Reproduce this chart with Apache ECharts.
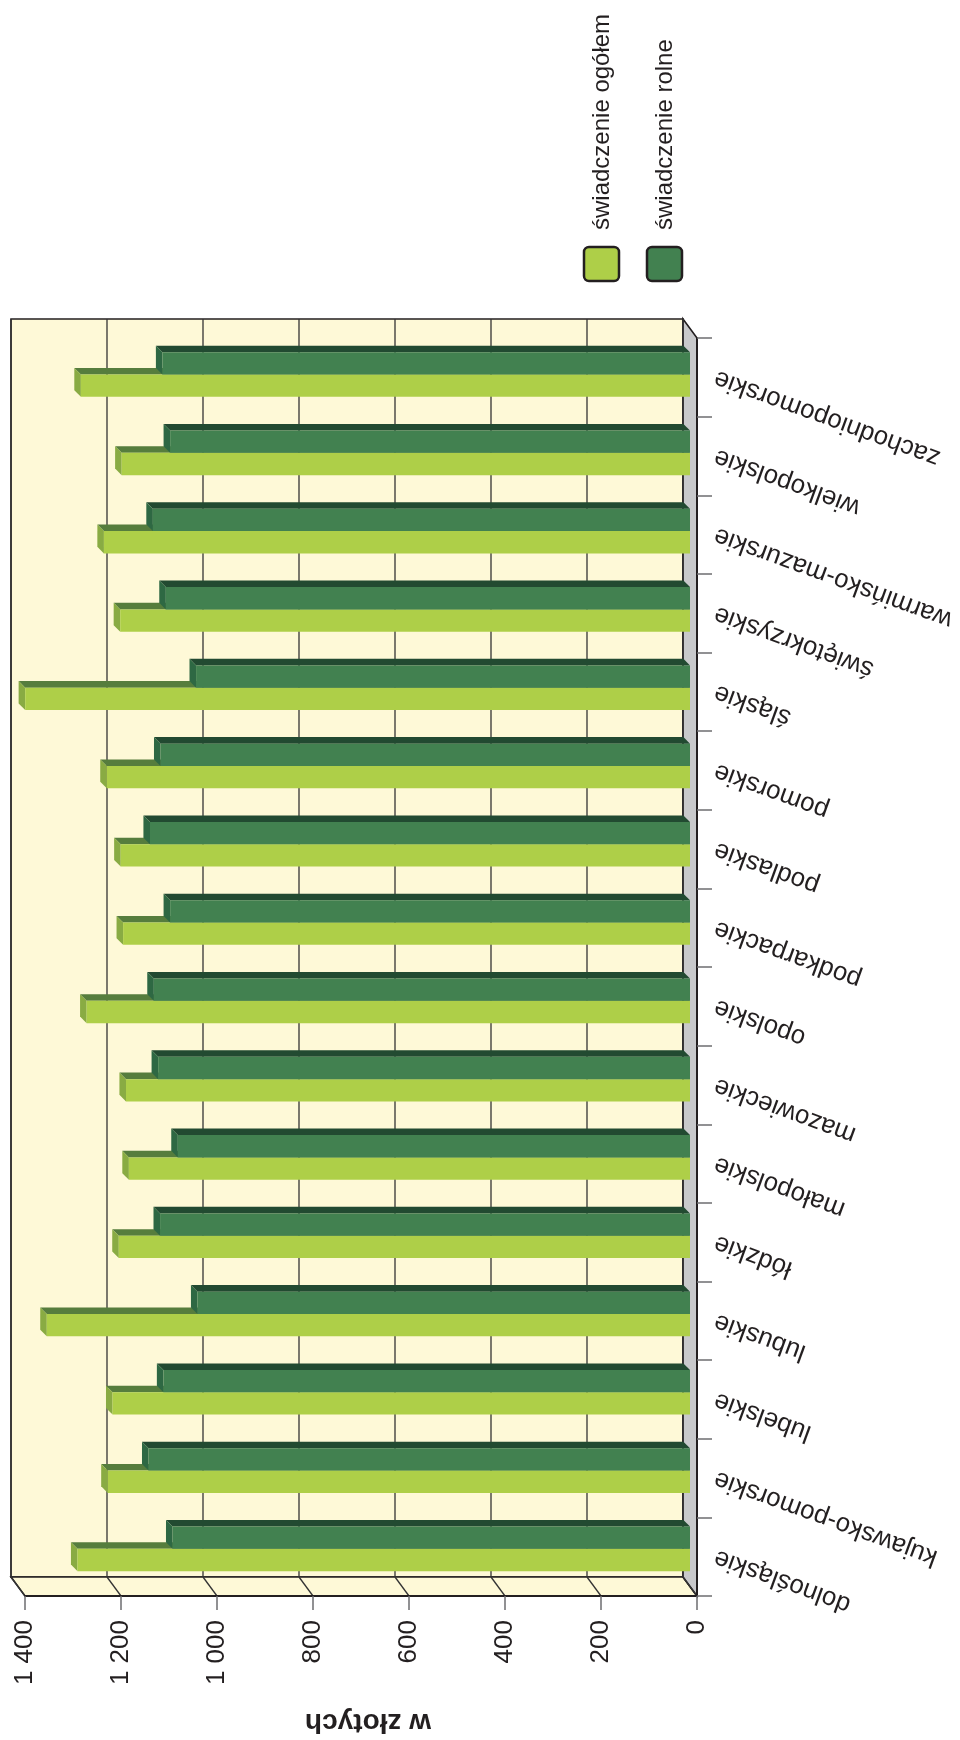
<!DOCTYPE html>
<html><head><meta charset="utf-8">
<script src="https://cdn.jsdelivr.net/npm/echarts@6/dist/echarts.min.js"></script>
<style>html,body{margin:0;padding:0;background:#fff}#c{width:960px;height:1740px}</style>
</head><body><div id="c"></div>
<script>
// ---- data ----
const categories = ['dolnośląskie','kujawsko-pomorskie','lubelskie','lubuskie','łódzkie','małopolskie','mazowieckie','opolskie','podkarpackie','podlaskie','pomorskie','śląskie','świętokrzyskie','warmińsko-mazurskie','wielkopolskie','zachodniopomorskie'];
const ogolem = [1276,1213,1203,1340,1190,1169,1175,1257,1181,1186,1215,1385,1187,1221,1184,1269];
const rolne  = [1078,1128,1097,1026,1104,1067,1108,1117,1083,1125,1103,1029,1092,1119,1083,1099];
const tickValues = [0,200,400,600,800,1000,1200,1400];
const tickLabels = ['0','200','400','600','800','1 000','1 200','1 400'];
const seriesNames = ['świadczenie ogółem','świadczenie rolne'];
const axisTitle = 'w złotych';

// ---- style ----
const FONT = '"Liberation Sans", Arial, Helvetica, sans-serif';
const TXT = '#231f20';
const LIGHT = {front:'#aecf48', top:'#567d3d', side:'#89ab43'};
const DARK  = {front:'#428150', top:'#224a31', side:'#2e6843'};
const WALL = '#fef9d7', SIDE = '#c8c9cb', EDGE = '#231f20', GRID = '#333333';
const BDX = -14, BDY = -19; // back-plane offset

const chart = echarts.init(document.getElementById('c'), null, {renderer:'canvas'});

function wallsItem(params, api){
  const cs = params.coordSys;
  const x = cs.x, y = cs.y, w = cs.width, h = cs.height;
  return {type:'group', children:[
    {type:'rect', shape:{x:x+BDX, y:y+BDY, width:w, height:h}, style:{fill:WALL, stroke:EDGE, lineWidth:1.6}},
    {type:'polygon', shape:{points:[[x+BDX,y+h+BDY],[x+w+BDX,y+h+BDY],[x+w,y+h],[x,y+h]]}, style:{fill:WALL, stroke:EDGE, lineWidth:1.6}},
    {type:'polygon', shape:{points:[[x+w+BDX,y+BDY],[x+w,y],[x+w,y+h],[x+w+BDX,y+h+BDY]]}, style:{fill:SIDE, stroke:EDGE, lineWidth:1.6}}
  ]};
}
function gridItem(params, api){
  const cs = params.coordSys;
  const px = api.coord([api.value(0), 0])[0];
  return {type:'group', children:[
    {type:'line', shape:{x1:px+BDX, y1:cs.y+BDY, x2:px+BDX, y2:cs.y+cs.height+BDY}, style:{stroke:GRID, lineWidth:1.3}},
    {type:'line', shape:{x1:px+BDX, y1:cs.y+cs.height+BDY, x2:px, y2:cs.y+cs.height}, style:{stroke:GRID, lineWidth:1.3}}
  ]};
}
function facesItem(colors, above){
  return function(params, api){
    const v = api.value(0), c = api.value(1);
    const pV = api.coord([v, c]), p0 = api.coord([0, c]);
    const band = api.size([0,1])[1];
    const h = band*0.285, d = band*0.084;
    const yt = above ? pV[1]-h : pV[1];
    const yb = yt + h;
    const xl = pV[0], xr = p0[0];
    return {type:'group', children:[
      {type:'polygon', shape:{points:[[xl,yt],[xr,yt],[xr-d,yt-d],[xl-d,yt-d]]}, style:{fill:colors.top}},
      {type:'polygon', shape:{points:[[xl,yt],[xl-d,yt-d],[xl-d,yb-d],[xl,yb]]}, style:{fill:colors.side}}
    ]};
  };
}

const valAxisBase = {type:'value', inverse:true, min:0, max:1400, interval:200};
const option = {
  backgroundColor:'#ffffff',
  animation:false,
  grid:[
    {left:25, right:263, top:338, bottom:144, containLabel:false},
    {left:18, right:270, top:335.4, bottom:152, containLabel:false}
  ],
  xAxis:[
    Object.assign({}, valAxisBase, {gridIndex:0, position:'bottom', z:10,
      axisLine:{show:true, lineStyle:{color:EDGE, width:2}},
      axisTick:{show:true, length:14, lineStyle:{color:'#6d6e70', width:1.5}},
      splitLine:{show:false},
      axisLabel:{rotate:90, margin:24, fontSize:26, color:TXT, fontFamily:FONT,
        formatter:function(v){ const i = tickValues.indexOf(v); return i>=0 ? tickLabels[i] : ''; }}
    }),
    Object.assign({}, valAxisBase, {gridIndex:1, show:false, splitLine:{show:false}})
  ],
  yAxis:[
    {type:'category', data:categories, gridIndex:0, position:'right', z:10,
      axisLine:{show:true, lineStyle:{color:EDGE, width:2}},
      axisTick:{show:true, length:15, lineStyle:{color:'#6d6e70', width:1.5}},
      splitLine:{show:false},
      axisLabel:{interval:0, rotate:160, margin:18, fontSize:26, color:TXT, fontFamily:FONT, align:'right', verticalAlign:'middle'}
    },
    {type:'category', data:categories, gridIndex:1, show:false}
  ],
  series:[
    {type:'custom', name:'walls', xAxisIndex:0, yAxisIndex:0, z:1, silent:true,
      data:[[0,0]], encode:{x:0,y:1}, renderItem:wallsItem},
    {type:'custom', name:'grid', xAxisIndex:0, yAxisIndex:0, z:2, silent:true,
      data:tickValues.map(v=>[v,0]), encode:{x:0,y:1}, renderItem:gridItem},
    {type:'custom', name:seriesNames[0]+' 3d', xAxisIndex:1, yAxisIndex:1, z:3, silent:true,
      data:ogolem.map((v,i)=>[v,i]), encode:{x:0,y:1}, renderItem:facesItem(LIGHT,false)},
    {type:'custom', name:seriesNames[1]+' 3d', xAxisIndex:1, yAxisIndex:1, z:5, silent:true,
      data:rolne.map((v,i)=>[v,i]), encode:{x:0,y:1}, renderItem:facesItem(DARK,true)},
    {type:'bar', name:seriesNames[1], xAxisIndex:1, yAxisIndex:1, z:6, data:rolne,
      barWidth:'28.5%', barGap:'0%', itemStyle:{color:DARK.front}, silent:true},
    {type:'bar', name:seriesNames[0], xAxisIndex:1, yAxisIndex:1, z:4, data:ogolem,
      barWidth:'28.5%', barGap:'0%', itemStyle:{color:LIGHT.front}, silent:true}
  ],
  graphic:[
    {type:'rect', x:584, y:247, shape:{width:35, height:34, r:5}, style:{fill:LIGHT.front, stroke:EDGE, lineWidth:2.5}},
    {type:'rect', x:647, y:247, shape:{width:35, height:34, r:5}, style:{fill:DARK.front, stroke:EDGE, lineWidth:2.5}},
    {type:'text', x:602, y:230, rotation:Math.PI/2, style:{text:seriesNames[0], fill:TXT, font:'24px '+FONT, textAlign:'left', textVerticalAlign:'middle'}},
    {type:'text', x:665, y:230, rotation:Math.PI/2, style:{text:seriesNames[1], fill:TXT, font:'24px '+FONT, textAlign:'left', textVerticalAlign:'middle'}},
    {type:'text', x:368, y:1722, rotation:Math.PI, style:{text:axisTitle, fill:TXT, font:'bold 28px '+FONT, textAlign:'center', textVerticalAlign:'middle'}}
  ]
};
chart.setOption(option);
</script></body></html>
